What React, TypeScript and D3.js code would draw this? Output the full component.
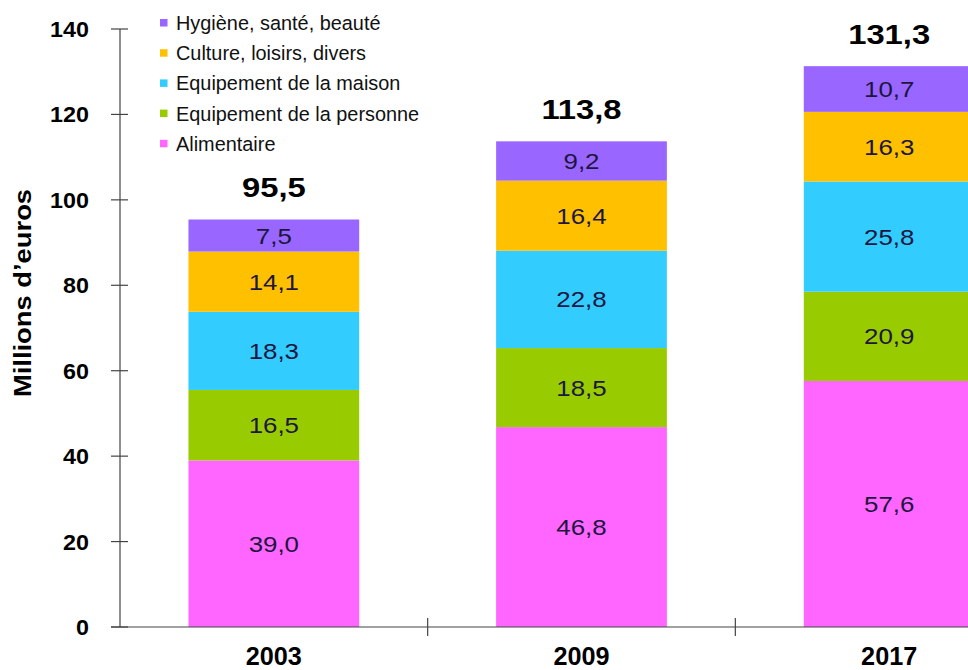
import React from "react";
import * as d3 from "d3";

const years = ["2003", "2009", "2017"];
const seriesNames = [
  "Alimentaire",
  "Equipement de la personne",
  "Equipement de la maison",
  "Culture, loisirs, divers",
  "Hygiène, santé, beauté",
];
const alimentaire = [39.0, 46.8, 57.6];
const personne = [16.5, 18.5, 20.9];
const maison = [18.3, 22.8, 25.8];
const culture = [14.1, 16.4, 16.3];
const hygiene = [7.5, 9.2, 10.7];
const totals = [95.5, 113.8, 131.3];
const yTicks = [0, 20, 40, 60, 80, 100, 120, 140];
const colors = ["#FF66FF", "#99CC00", "#33CCFF", "#FFC000", "#9966FF"];

const fmt = (v: number) => v.toFixed(1).replace(".", ",");

function T(props: {
  x: number; y: number; sx?: number; size: number; bold?: boolean; anchor?: string;
  fill?: string; baseline?: string; children: React.ReactNode;
}) {
  const { x, y, sx = 1, size, bold, anchor = "middle", fill = "#000", baseline, children } = props;
  return (
    <g transform={`translate(${x},${y}) scale(${sx},1)`}>
      <text x={0} y={0} textAnchor={anchor as any} dominantBaseline={baseline as any} fontSize={size}
        fontWeight={bold ? "bold" : "normal"} fill={fill}>
        {children}
      </text>
    </g>
  );
}

export default function App() {
  const W = 968, H = 670;
  const values = [alimentaire, personne, maison, culture, hygiene];
  const x = d3.scaleBand<string>().domain(years).range([120, 1043]).padding(0);
  const y = d3.scaleLinear().domain([0, 140]).range([627, 29]);
  const barW = x.bandwidth() * 0.555;
  const font = "'Liberation Sans', Arial, sans-serif";

  const stack = d3.stack<number>().keys([0, 1, 2, 3, 4].map(String))
    .value((_d, key) => values[+key][_d]);
  const stacked = stack([0, 1, 2]);

  return (
    <svg width={W} height={H} style={{ position: "absolute", left: 0, top: 0, background: "#fff" }} fontFamily={font}>
      <rect width={W} height={H} fill="#fff" />
      {stacked.map((s, si) =>
        s.map((d, i) => {
          const cx = x(years[i])! + x.bandwidth() / 2;
          const y0 = y(d[0]), y1 = y(d[1]);
          return (
            <g key={`${si}-${i}`}>
              <rect x={cx - barW / 2} y={y1} width={barW} height={y0 - y1} fill={colors[si]} />
              <T x={cx} y={(y0 + y1) / 2 + 8} size={22.5} sx={1.15} fill="#1c1640">
                {fmt(values[si][i])}
              </T>
            </g>
          );
        })
      )}
      {totals.map((t, i) => (
        <T key={i} x={x(years[i])! + x.bandwidth() / 2} y={y(t) - 22} size={28} sx={1.17} bold>
          {fmt(t)}
        </T>
      ))}
      {/* y axis */}
      <line x1={120} x2={120} y1={y(140)} y2={y(0)} stroke="#444" strokeWidth={1.2} />
      {yTicks.map((t) => (
        <g key={t}>
          <line x1={111} x2={128} y1={y(t)} y2={y(t)} stroke="#444" strokeWidth={1.2} />
          <T x={89} y={y(t) + 8} size={22} sx={1.06} bold anchor="end">
            {t}
          </T>
        </g>
      ))}
      <g transform={`translate(31,293) rotate(-90)`}>
        <T x={0} y={0} size={24} sx={1.14} bold>
          Millions d’euros
        </T>
      </g>
      {/* x axis */}
      <line x1={111} x2={W} y1={y(0)} y2={y(0)} stroke="#444" strokeWidth={1.2} />
      {years.map((yr, i) => (
        <g key={yr}>
          {i > 0 && <line x1={x(yr)!} x2={x(yr)!} y1={618} y2={636} stroke="#444" strokeWidth={1.2} />}
          <T x={x(yr)! + x.bandwidth() / 2} y={665} size={26} sx={0.97} bold>
            {yr}
          </T>
        </g>
      ))}
      {/* legend */}
      {[4, 3, 2, 1, 0].map((si, r) => (
        <g key={si} transform={`translate(160,${23 + r * 30.2})`}>
          <rect x={0} y={-4} width={7.5} height={7.5} fill={colors[si]} />
          <T x={16} y={7} size={19.5} sx={1.02} anchor="start" fill="#111">
            {seriesNames[si]}
          </T>
        </g>
      ))}
    </svg>
  );
}
